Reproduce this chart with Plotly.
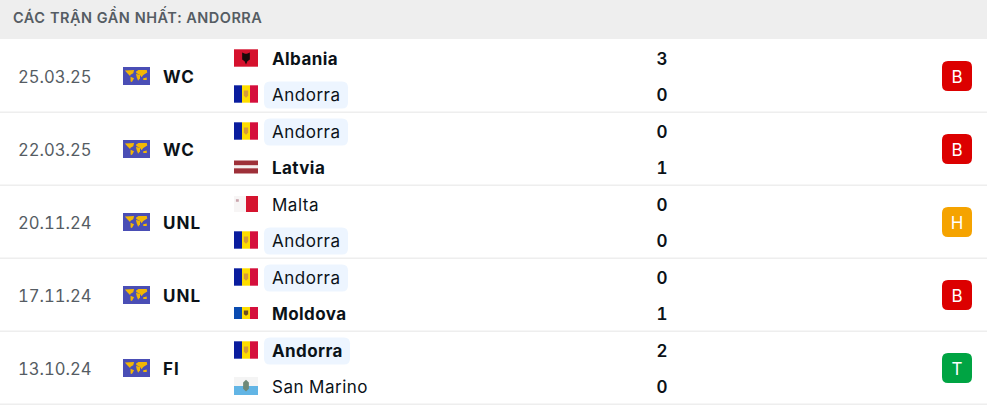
"""Recent matches table for Andorra, drawn on a pixel-sized Plotly canvas."""

import plotly.graph_objects as go

WIDTH = 987
HEIGHT = 412

title = "CÁC TRẬN GẦN NHẤT: ANDORRA"
focus_team = "Andorra"
dates = ["25.03.25", "22.03.25", "20.11.24", "17.11.24", "13.10.24"]
competitions = ["WC", "WC", "UNL", "UNL", "FI"]
home_teams = ["Albania", "Andorra", "Malta", "Andorra", "Andorra"]
away_teams = ["Andorra", "Latvia", "Andorra", "Moldova", "San Marino"]
home_goals = [3, 0, 0, 0, 2]
away_goals = [0, 1, 0, 1, 0]
results = ["B", "B", "H", "B", "T"]

RESULT_COLORS = {"B": "#dc0000", "H": "#f5a300", "T": "#00a443"}
FONT = "Inter"
HEADER_H = 39
ROW_H = 73
INK = "#0b1218"
MUTED = "#555c63"

# stripes: (start, end, colour) as fractions of the flag
FLAGS = {
    "Albania": ("h", [(0, 1, "#d5112d")]),
    "Andorra": ("v", [(0, 1 / 3, "#0a1d9e"), (1 / 3, 2 / 3, "#fedd00"), (2 / 3, 1, "#d50f3c")]),
    "Latvia": ("h", [(0, 0.38, "#9e3039"), (0.38, 0.6, "#f4eeee"), (0.6, 1, "#9e3039")]),
    "Malta": ("v", [(0, 0.5, "#f7f5f5"), (0.5, 1, "#d5142f")]),
    "Moldova": ("v", [(0, 1 / 3, "#0a4bb0"), (1 / 3, 2 / 3, "#fedd00"), (2 / 3, 1, "#d50f3c")]),
    "San Marino": ("h", [(0, 0.5, "#f4f4f4"), (0.5, 1, "#62b5e5")]),
}
# emblems on top of the stripes: polygon in flag fractions, colour
EAGLE = [(0.34, 0.18), (0.46, 0.26), (0.54, 0.26), (0.66, 0.18), (0.66, 0.58), (0.56, 0.68), (0.5, 0.88), (0.44, 0.68), (0.34, 0.58)]
CREST = [(0.41, 0.3), (0.59, 0.3), (0.59, 0.6), (0.5, 0.72), (0.41, 0.6)]
FLAG_MARKS = {
    "Albania": [(EAGLE, "#1a0a0a")],
    "Andorra": [(CREST, "#d59a3a")],
    "Malta": [([(0.08, 0.2), (0.2, 0.2), (0.2, 0.36), (0.08, 0.36)], "#c9a3ab")],
    "Moldova": [(CREST, "#6b4d20")],
    "San Marino": [([(0.38, 0.3), (0.5, 0.15), (0.62, 0.3), (0.62, 0.65), (0.5, 0.8), (0.38, 0.65)], "#6f8a78")],
}
FLAG_SIZE = {"Moldova": 12, "Latvia": 13, "Malta": 16, "San Marino": 18}
# gold land on the world icon, in icon fractions
LAND = [
    [(0.07, 0.2), (0.41, 0.17), (0.38, 0.35), (0.28, 0.43), (0.26, 0.5), (0.16, 0.35)],
    [(0.28, 0.54), (0.41, 0.63), (0.33, 0.83), (0.28, 0.81)],
    [(0.48, 0.26), (0.57, 0.17), (0.88, 0.17), (0.9, 0.31), (0.75, 0.44), (0.69, 0.57), (0.63, 0.44), (0.57, 0.39), (0.5, 0.35)],
    [(0.48, 0.39), (0.63, 0.43), (0.63, 0.63), (0.56, 0.76), (0.51, 0.57)],
    [(0.75, 0.63), (0.88, 0.59), (0.88, 0.72), (0.75, 0.72)],
]


def rounded_rect(x0, y0, x1, y1, r):
    return (
        f"M{x0 + r},{y0} L{x1 - r},{y0} Q{x1},{y0} {x1},{y0 + r} "
        f"L{x1},{y1 - r} Q{x1},{y1} {x1 - r},{y1} L{x0 + r},{y1} "
        f"Q{x0},{y1} {x0},{y1 - r} L{x0},{y0 + r} Q{x0},{y0} {x0 + r},{y0} Z"
    )


def rect(x0, y0, x1, y1, color):
    return dict(type="rect", x0=x0, y0=y0, x1=x1, y1=y1, fillcolor=color, line_width=0, layer="below")


def polygon(points, x0, y0, w, h, color):
    path = "M" + " L".join(f"{x0 + a * w},{y0 + b * h}" for a, b in points) + " Z"
    return dict(type="path", path=path, fillcolor=color, line_width=0, layer="below")


def flag_shapes(team, cy):
    h = FLAG_SIZE.get(team, 17.4)
    x0, w, y0 = 234, 24, cy - 1 - h / 2
    kind, stripes = FLAGS[team]
    out = []
    for start, end, color in stripes:
        if kind == "v":
            out.append(rect(x0 + start * w, y0, x0 + end * w, y0 + h, color))
        else:
            out.append(rect(x0, y0 + start * h, x0 + w, y0 + end * h, color))
    for points, color in FLAG_MARKS.get(team, []):
        out.append(polygon(points, x0, y0, w, h, color))
    return out


def text_trace(x, y, labels, size, color, weight=400, position="middle right"):
    return go.Scatter(
        x=x, y=y, text=labels, mode="text", textposition=position, hoverinfo="skip",
        textfont=dict(family=FONT, size=size, color=color, weight=weight),
    )


shapes = [rect(0, 0, WIDTH, HEADER_H, "#eeeeee")]
team_groups = {400: ([], [], []), 700: ([], [], [])}
score_x, score_y, score_text = [], [], []

for i, date in enumerate(dates):
    top = HEADER_H + i * ROW_H
    mid = top + 37
    shapes.append(rect(0, top + ROW_H - 0.5, WIDTH, top + ROW_H + 1, "#eeeeee"))

    # world icon
    shapes.append(rect(123, mid - 9, 150, mid + 9, "#4a4eb5"))
    for land in LAND:
        shapes.append(polygon(land, 123, mid - 9, 27, 18, "#f2b705"))

    sides = [
        (home_teams[i], home_goals[i], away_goals[i], top + 20),
        (away_teams[i], away_goals[i], home_goals[i], top + 56),
    ]
    for team, goals, other, cy in sides:
        weight = 700 if goals > other else 400
        if team == focus_team:
            shapes.append(dict(
                type="path", path=rounded_rect(264, cy - 13.5, 350 if weight == 700 else 348, cy + 13.5, 6),
                fillcolor="#edf5ff", line_width=0, layer="below",
            ))
        shapes.extend(flag_shapes(team, cy))
        xs, ys, labels = team_groups[weight]
        xs.append(272)
        ys.append(cy + 2)
        labels.append(team)
        score_x.append(662)
        score_y.append(cy + 2)
        score_text.append(str(goals))

    shapes.append(dict(
        type="path", path=rounded_rect(942, mid - 15, 972, mid + 15, 6),
        fillcolor=RESULT_COLORS[results[i]], line_width=0, layer="below",
    ))

text_mid = [HEADER_H + i * ROW_H + 40 for i in range(len(dates))]

fig = go.Figure()
fig.add_trace(text_trace([13], [19], [title], 14.5, MUTED, 600))
fig.add_trace(text_trace([18] * len(dates), text_mid, dates, 16.6, MUTED))
fig.add_trace(text_trace([163] * len(dates), text_mid, competitions, 17, INK, 700))
for weight, (xs, ys, labels) in team_groups.items():
    fig.add_trace(text_trace(xs, ys, labels, 17, INK, weight))
fig.add_trace(text_trace(score_x, score_y, score_text, 17, INK, 600, "middle center"))
fig.add_trace(text_trace([957] * len(results), text_mid, results, 17, "#ffffff", 400, "middle center"))

fig.update_layout(
    width=WIDTH,
    height=HEIGHT,
    margin=dict(l=0, r=0, t=0, b=0),
    paper_bgcolor="white",
    plot_bgcolor="white",
    showlegend=False,
    shapes=shapes,
    xaxis=dict(range=[0, WIDTH], visible=False, fixedrange=True),
    yaxis=dict(range=[HEIGHT, 0], visible=False, fixedrange=True),
)

# Plotly has no letter spacing or tabular figures for text traces
PAGE_CSS = """
.scatterlayer .trace text { font-variant-numeric: tabular-nums !important; font-feature-settings: "tnum" !important; }
.scatterlayer .trace:nth-child(1) text { letter-spacing: .5px; }
.scatterlayer .trace:nth-child(3) text { letter-spacing: 1px; }
.scatterlayer .trace:nth-child(4) text { letter-spacing: .5px; }
.scatterlayer .trace:nth-child(5) text { letter-spacing: .4px; }
"""
fig.write_html(
    "out.html",
    config={"displayModeBar": False},
    post_script=(
        "document.body.style.margin = '0';"
        "var css = document.createElement('style');"
        f"css.textContent = `{PAGE_CSS}`;"
        "document.head.appendChild(css);"
    ),
)
